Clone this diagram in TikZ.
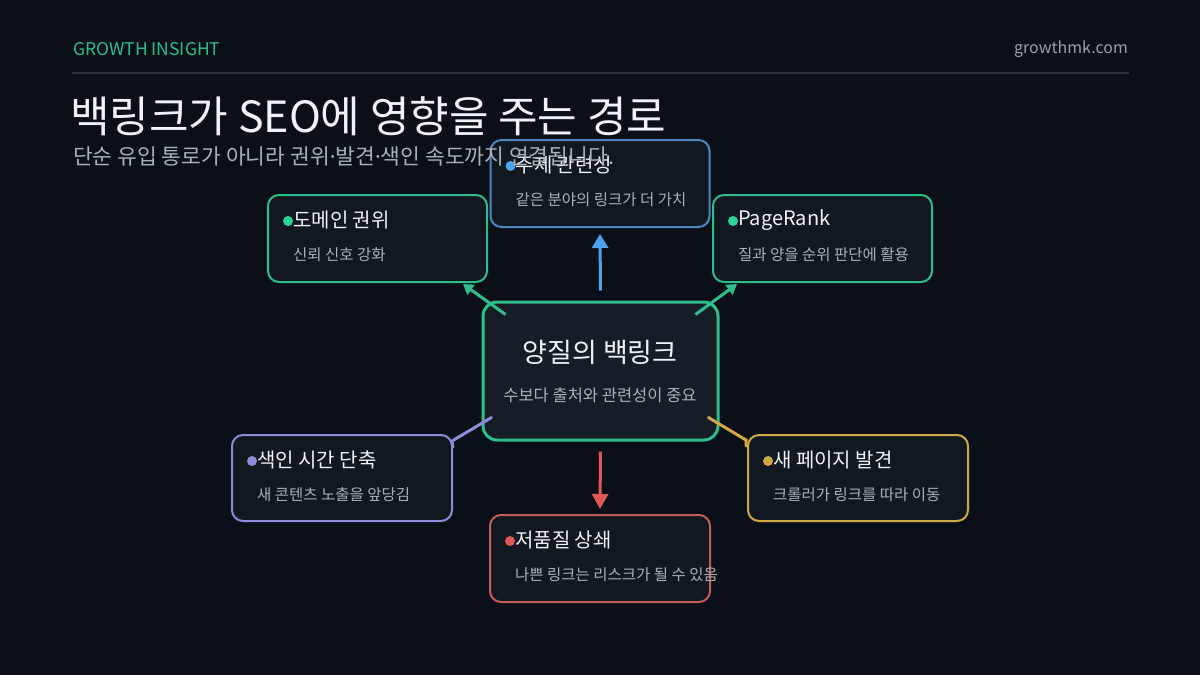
\documentclass[tikz,border=0pt]{standalone}
\usepackage{fontspec}
\setmainfont{Noto Sans CJK KR}
\newfontfamily\dotfont{Noto Sans}
\newcommand{\mdot}{{\dotfont ·}}
\usetikzlibrary{calc,arrows.meta}
\definecolor{bg}{HTML}{0B0F17}
\definecolor{cardbg}{HTML}{121820}
\definecolor{centerbg}{HTML}{151D27}
\definecolor{cgreen}{HTML}{2DBE8C}
\definecolor{dgreen}{HTML}{2ED39A}
\definecolor{cblue}{HTML}{4A88C0}
\definecolor{ablue}{HTML}{4DA3EE}
\definecolor{cpurple}{HTML}{8C8CD8}
\definecolor{cgold}{HTML}{D0A845}
\definecolor{cred}{HTML}{C85A5A}
\definecolor{ared}{HTML}{E05858}
\definecolor{tw}{HTML}{F0F2F5}
\definecolor{tg}{HTML}{A8B0BA}
\definecolor{hline}{HTML}{2A2F38}
\definecolor{hgray}{HTML}{9AA0A8}
\tikzset{
  card/.style={draw, rounded corners=11pt, line width=2pt, fill=cardbg, minimum width=219pt, minimum height=87pt, inner sep=0pt},
  cardtitle/.style={anchor=west, inner sep=0pt, text=tw, font=\fontsize{20}{23}\selectfont},
  cardsub/.style={anchor=west, inner sep=0pt, text=tg, font=\fontsize{15.5}{18}\selectfont},
  carddot/.style={circle, inner sep=0pt, minimum size=10pt},
  link/.style={line width=3pt},
}
\begin{document}
\begin{tikzpicture}[x=1pt,y=-1pt]
\fill[bg] (0,0) rectangle (1200,675);
\useasboundingbox (0,0) rectangle (1200,675);
% header
\node[anchor=west, inner sep=0pt, text=cgreen, font=\fontsize{17.5}{20}\selectfont] (brand) at (73,49) {GROWTH INSIGHT};
\node[anchor=east, inner sep=0pt, text=hgray, font=\fontsize{16}{19}\selectfont] (site) at (1128,49) {growthmk.com};
\coordinate (hl1) at (72,73);
\coordinate (hl2) at (1129,73);
\draw[hline, line width=2pt] (hl1) -- (hl2);
\node[anchor=west, inner sep=0pt, text=tw, font=\fontsize{43}{48}\selectfont] (title) at (70,116) {백링크가 SEO에 영향을 주는 경로};
% cards
\node[card, draw=cblue] (topic) at (600,183.5) {};
\node[card, draw=cgreen] (domain) at (377.5,238.5) {};
\node[card, draw=cgreen] (pr) at (822.5,238.5) {};
\node[card, draw=cpurple, minimum width=220pt, minimum height=86pt] (index) at (342,478) {};
\node[card, draw=cgold, minimum width=220pt, minimum height=86pt] (disc) at (858,478) {};
\node[card, draw=cred, minimum width=220pt] (lowq) at (600,558.5) {};
\node[card, draw=cgreen, fill=centerbg, line width=3pt, rounded corners=14pt, minimum width=235pt, minimum height=138pt] (center) at (600.5,371) {};
% card contents
\foreach \n/\c/\t/\s in {topic/ablue/주제 관련성/같은 분야의 링크가 더 가치,
  domain/dgreen/도메인 권위/신뢰 신호 강화,
  pr/dgreen/PageRank/질과 양을 순위 판단에 활용,
  index/cpurple/색인 시간 단축/새 콘텐츠 노출을 앞당김,
  disc/cgold/새 페이지 발견/크롤러가 링크를 따라 이동,
  lowq/ared/저품질 상쇄/나쁜 링크는 리스크가 될 수 있음}{
  \node[carddot, fill=\c] (\n dot) at ($(\n.north west)+(21,27)$) {};
  \node[cardtitle] (\n title) at ($(\n.north west)+(26,26)$) {\t};
  \node[cardsub] (\n sub) at ($(\n.north west)+(26,61)$) {\s};
}
\node[inner sep=0pt, text=tw, font=\fontsize{27}{31}\selectfont] (ctitle) at (600,352) {양질의 백링크};
\node[inner sep=0pt, text=tg, font=\fontsize{16.5}{19}\selectfont] (csub) at (600,395) {수보다 출처와 관련성이 중요};
% subtitle (overlaps the topic card)
\node[anchor=west, inner sep=0pt, text=tg, font=\fontsize{21.5}{25}\selectfont] (subtitle) at (73,156) {단순 유입 통로가 아니라 권위\mdot 발견\mdot 색인 속도까지 연결됩니다.};
% connectors
\draw[link, ablue, -{Triangle[width=16pt,length=14pt]}] ([yshift=10pt]center.north) -- ([yshift=-6pt]topic.south);
\draw[link, ared, -{Triangle[width=16pt,length=15pt]}] ([yshift=-10pt]center.south) -- ([yshift=5pt]lowq.north);
\draw[link, cgreen, -{Triangle[width=12pt,length=10pt]}] ($(center.north west)+(24,14)$) -- ($(domain.south east)+(-25,1)$);
\draw[link, cgreen, -{Triangle[width=12pt,length=10pt]}] ($(center.north east)+(-24,14)$) -- ($(pr.south west)+(25,1)$);
\coordinate (pe) at ($(index.north east)+(-1,7)$);
\draw[link, cpurple, line cap=round] ($(center.south west)+(10,-24)$) -- (pe) -- ++(1,6);
\coordinate (ge) at ($(disc.north west)+(-1,6)$);
\draw[link, cgold, line cap=round] ($(center.south east)+(-11,-24)$) -- (ge) -- ++(0,6);
\end{tikzpicture}
\end{document}
